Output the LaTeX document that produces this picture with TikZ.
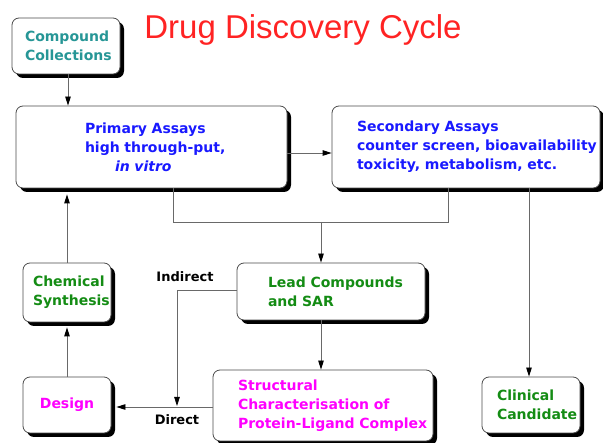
\documentclass[tikz,border=0pt]{standalone}
\usepackage{fontspec}
\setmainfont{DejaVu Sans}
\newfontfamily\titlefont{Liberation Sans}
\usetikzlibrary{shadows,arrows.meta,calc}
\definecolor{cteal}{RGB}{38,150,150}
\definecolor{cblue}{RGB}{25,25,255}
\definecolor{cgreen}{RGB}{20,140,20}
\definecolor{cmag}{RGB}{255,0,255}
\definecolor{cred}{RGB}{255,35,35}
\definecolor{cline}{RGB}{105,105,105}
\begin{document}
\begin{tikzpicture}[x=1pt,y=-1pt,
  box/.style={draw=black!70, line width=0.8pt, rounded corners=7pt, fill=white,
    drop shadow={shadow xshift=4pt, shadow yshift=-4pt, fill=black, opacity=1},
    font=\fontsize{14}{19}\selectfont\bfseries, align=left, inner ysep=0pt},
  conn/.style={draw=cline, line width=0.8pt},
  arr/.style={conn, -{Triangle[length=9pt,width=5.5pt,color=black]}},
  lab/.style={font=\fontsize{13}{16}\selectfont\bfseries, text=black, inner sep=0pt}
]
\useasboundingbox (0,0) rectangle (603,443);

\node[font=\titlefont\fontsize{33}{40}\selectfont, text=cred, anchor=base] (title) at (303,39) {Drug Discovery Cycle};

\node[box, text=cteal, minimum width=108pt, minimum height=56pt, inner xsep=13pt, text width=82pt] (cc) at (66,46)
  {\mbox{Compound}\\\mbox{Collections}};
\node[box, text=cblue, minimum width=271pt, minimum height=82pt, inner xsep=69pt, text width=133pt] (pa) at (151.5,147)
  {\mbox{Primary Assays}\\\mbox{high through-put,}\\\mbox{\hspace*{30pt}\itshape in vitro}};
\node[box, text=cblue, minimum width=268pt, minimum height=82pt, inner xsep=25pt, text width=218pt] (sa) at (466,147)
  {\mbox{Secondary Assays}\\\mbox{counter screen, bioavailability}\\\mbox{toxicity, metabolism, etc.}};
\node[box, text=cgreen, minimum width=88pt, minimum height=59pt, inner xsep=10pt, text width=68pt] (cs) at (67,292.5)
  {\mbox{Chemical}\\\mbox{Synthesis}};
\node[box, text=cmag, minimum width=88pt, minimum height=56pt, align=center] (de) at (67,405)
  {Design};
\node[box, text=cgreen, minimum width=188pt, minimum height=57pt, inner xsep=31pt, text width=126pt] (lc) at (331,291.5)
  {\mbox{Lead Compounds}\\\mbox{and SAR}};
\node[box, text=cmag, minimum width=220pt, minimum height=71pt, inner xsep=25pt, text width=170pt] (st) at (323,405.5)
  {\mbox{Structural}\\\mbox{Characterisation of}\\\mbox{Protein-Ligand Complex}};
\node[box, text=cgreen, minimum width=98pt, minimum height=56pt, inner xsep=15pt, text width=68pt] (cl) at (531,405)
  {\mbox{Clinical}\\\mbox{Candidate}};

\node[lab] (indl) at (185,277) {Indirect};
\node[lab] (dirl) at (177,420) {Direct};

% helper coordinates
\coordinate (ccb) at ([xshift=2pt]cc.south);
\coordinate (pae) at ([yshift=-6pt]pa.east);
\coordinate (pab) at ([yshift=-6pt]pa.south);
\coordinate (csb) at ([yshift=-5pt]cs.south);
\coordinate (j1) at (173,222);
\coordinate (j2) at (448,222);
\coordinate (j3) at (321,222);
\coordinate (cx) at (529,0);
\coordinate (ind) at (177,406);
\coordinate (lcw) at ([yshift=1.5pt]lc.west);
\coordinate (stw) at ([yshift=-1.5pt]st.west);
\coordinate (dee) at ([xshift=5pt]de.east);

\draw[arr] (ccb) -- (ccb |- pa.north);
\draw[arr] (pae) -- (pae -| sa.west);
\draw[conn] (j1 |- pa.south) -- (j1) -- (j2) -- (j2 |- sa.south);
\draw[arr] (j3) -- (j3 |- lc.north);
\draw[arr] (j3 |- lc.south) -- (j3 |- st.north);
\draw[arr] (cx |- sa.south) -- (cx |- cl.north);
\draw[arr] (lcw) -| (ind);
\draw[arr] (stw) -- (stw -| dee);
\draw[arr] (de.north) -- (csb);
\draw[arr] (cs.north) -- (cs.north |- pab);
\end{tikzpicture}
\end{document}
